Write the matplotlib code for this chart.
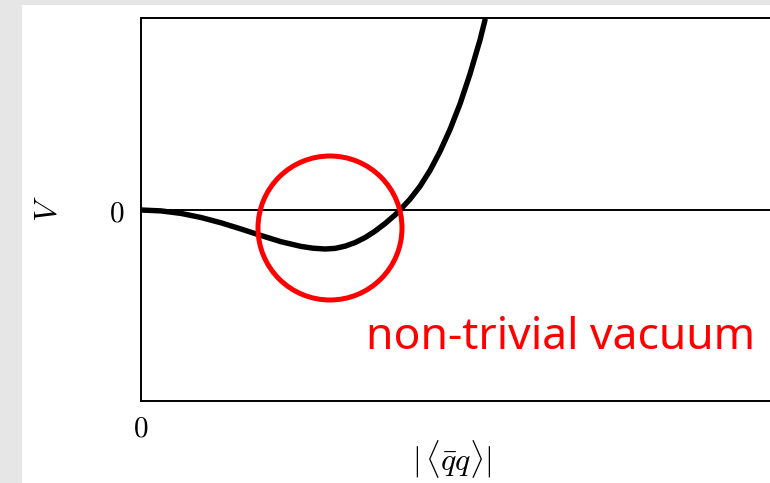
import matplotlib
matplotlib.use("Agg")
import matplotlib.pyplot as plt
from matplotlib.patches import Circle, Rectangle

plt.rcParams['mathtext.fontset'] = 'cm'

# Curve (arbitrary units)
condensate = [0.00, 0.20, 0.40, 0.60, 0.80, 1.00, 1.20, 1.40, 1.60, 1.72, 1.84,
              1.94, 2.04, 2.14, 2.24, 2.34, 2.44, 2.54, 2.59,
              2.69, 2.79, 2.89, 2.99, 3.09, 3.19, 3.29, 3.39, 3.44]
potential = [0.000, -0.009, -0.034, -0.075, -0.128, -0.190, -0.255, -0.317, -0.364, -0.382, -0.390,
             -0.384, -0.362, -0.326, -0.276, -0.212, -0.136, -0.050, 0.000,
             0.108, 0.237, 0.395, 0.585, 0.805, 1.060, 1.360, 1.700, 1.900]

vacuum_center = (1.89, -0.18)
vacuum_radius = 0.72
annotation = "non-trivial vacuum"
xtick_labels = ["$0$"]
ytick_labels = ["$0$"]

W, H = 770, 483
fig = plt.figure(figsize=(W / 100, H / 100), dpi=100)
fig.patch.set_facecolor('#e6e6e6')
fig.add_artist(Rectangle((22 / W, 0), 1, 1 - 5 / H, transform=fig.transFigure,
                         facecolor='white', edgecolor='none', zorder=0))

left, right, top, bottom = 141, 790, 18, 401
ax = fig.add_axes([left / W, 1 - bottom / H, (right - left) / W, (bottom - top) / H])
ax.set_facecolor('white')
ax.set_xlim(0, (right - left) / 100)
ax.set_ylim(-(bottom - 210) / 100, (210 - top) / 100)

for s in ax.spines.values():
    s.set_linewidth(1.4)
    s.set_color('black')

ax.axhline(0, color='black', lw=1.4, zorder=1)
ax.plot(condensate, potential, color='black', lw=3.9, solid_capstyle='round',
        solid_joinstyle='round', zorder=3)
ax.add_patch(Circle(vacuum_center, vacuum_radius, fill=False, edgecolor='#ff0000',
                    lw=3.6, zorder=4))

ax.set_xticks([0])
ax.set_xticklabels(xtick_labels)
ax.set_yticks([0])
ax.set_yticklabels(ytick_labels)
ax.tick_params(length=0, labelsize=21)
ax.tick_params(axis='x', pad=10)
ax.tick_params(axis='y', pad=12)

fig.text(48 / W, 1 - 209 / H, "$V$", rotation=90, ha='center', va='center', fontsize=23)
fig.text(452 / W, 1 - 459 / H, r"$|\,\langle\bar{q}q\rangle|$", ha='center', va='center',
         fontsize=23)
fig.text(366 / W, 1 - 349 / H, annotation, color='#ff0000', fontsize=32,
         family='Noto Sans', ha='left', va='baseline')

fig.savefig('out.png', dpi=100, facecolor=fig.get_facecolor())
